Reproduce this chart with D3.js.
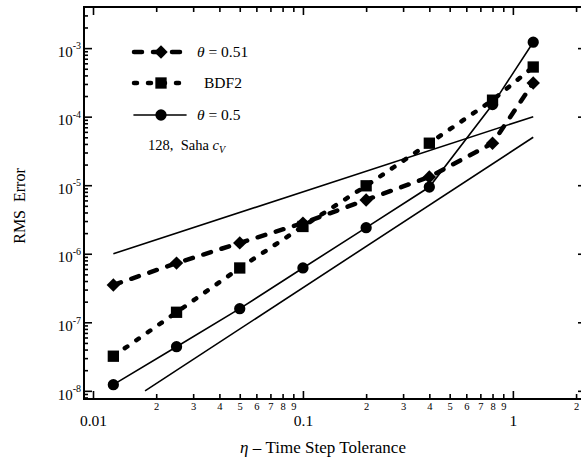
<!DOCTYPE html>
<html>
<head>
<meta charset="utf-8">
<script src="https://cdnjs.cloudflare.com/ajax/libs/d3/7.8.5/d3.min.js"></script>
<style>
  body { margin: 0; background: #fff; }
  svg { display: block; font-family: "Liberation Serif", "DejaVu Serif", serif; }
</style>
</head>
<body>
<svg id="chart" width="581" height="457"></svg>
<script>
// data
var eta = [0.0125, 0.025, 0.05, 0.1, 0.2, 0.4, 0.8, 1.25];
var theta051 = [3.5e-7, 7.3e-7, 1.44e-6, 2.8e-6, 6.1e-6, 1.32e-5, 4.1e-5, 3.1e-4];
var bdf2 = [3.2e-8, 1.4e-7, 6.2e-7, 2.5e-6, 9.8e-6, 4.1e-5, 1.74e-4, 5.3e-4];
var theta05 = [1.23e-8, 4.4e-8, 1.58e-7, 6.2e-7, 2.4e-6, 9.4e-6, 1.5e-4, 1.22e-3];
// reference slope lines (first order, second order)
var slope1X = [0.0125, 1.25], slope1Y = [1e-6, 1e-4];
var slope2X = [0.0177, 1.25], slope2Y = [1e-8, 5e-5];

var xMajor = [0.01, 0.1, 1];
var xMinor = [0.02, 0.03, 0.04, 0.05, 0.06, 0.07, 0.08, 0.09,
              0.2, 0.3, 0.4, 0.5, 0.6, 0.7, 0.8, 0.9, 2];
var yMajor = [1e-8, 1e-7, 1e-6, 1e-5, 1e-4, 1e-3];

var pLeft = 84, pRight = 586, pTop = 7, pBottom = 399;

var svg = d3.select("#chart");

var x = d3.scaleLog().domain([0.00906, 2.23]).range([pLeft, pRight]);
var y = d3.scaleLog().domain([7.6e-9, 3.98e-3]).range([pBottom, pTop]);

// y minor ticks 2..9 per decade inside the domain
var yMinor = [];
for (var e = -9; e <= -3; e++) {
  for (var m = 2; m <= 9; m++) {
    var v = m * Math.pow(10, e);
    if (v > y.domain()[0] && v < y.domain()[1]) yMinor.push(v);
  }
}

// frame
svg.append("rect")
  .attr("x", pLeft).attr("y", pTop)
  .attr("width", pRight - pLeft).attr("height", pBottom - pTop)
  .attr("fill", "none").attr("stroke", "#000").attr("stroke-width", 2);

function styleAxis(g) {
  g.attr("font-family", null);
  g.select(".domain").remove();
  g.selectAll(".tick line").attr("stroke", "#000").attr("stroke-width", 1.6);
}

// bottom axis
svg.append("g").attr("transform", "translate(0," + pBottom + ")")
  .call(d3.axisBottom(x).tickValues(xMinor).tickSize(-5).tickPadding(4)
    .tickFormat(function(d) { return Math.round(d / Math.pow(10, Math.floor(Math.log10(d) + 1e-9))); }))
  .call(styleAxis)
  .selectAll("text").attr("font-size", 10.5).attr("fill", "#000");
svg.append("g").attr("transform", "translate(0," + pBottom + ")")
  .call(d3.axisBottom(x).tickValues(xMajor).tickSize(-8).tickPadding(16)
    .tickFormat(function(d) { return String(d); }))
  .call(styleAxis)
  .selectAll("text").attr("font-size", 15.5).attr("fill", "#000");

// top axis
svg.append("g").attr("transform", "translate(0," + pTop + ")")
  .call(d3.axisTop(x).tickValues(xMinor).tickSize(-5).tickFormat(""))
  .call(styleAxis);
svg.append("g").attr("transform", "translate(0," + pTop + ")")
  .call(d3.axisTop(x).tickValues(xMajor).tickSize(-8).tickFormat(""))
  .call(styleAxis);

// left axis
svg.append("g").attr("transform", "translate(" + pLeft + ",0)")
  .call(d3.axisLeft(y).tickValues(yMinor).tickSize(-4).tickFormat(""))
  .call(styleAxis);
var yl = svg.append("g").attr("transform", "translate(" + pLeft + ",0)")
  .call(d3.axisLeft(y).tickValues(yMajor).tickSize(-8).tickPadding(3)
    .tickFormat(function(d) { return ""; }))
  .call(styleAxis);
yl.selectAll(".tick text")
  .attr("font-size", 15).attr("fill", "#000").attr("dy", "0.55em")
  .each(function(d) {
    var t = d3.select(this);
    t.append("tspan").text("10");
    t.append("tspan").attr("font-size", 10).attr("dy", "-0.75em")
      .text(String(Math.round(Math.log10(d))));
  });

// right axis
svg.append("g").attr("transform", "translate(" + pRight + ",0)")
  .call(d3.axisRight(y).tickValues(yMinor).tickSize(-4).tickFormat(""))
  .call(styleAxis);
svg.append("g").attr("transform", "translate(" + pRight + ",0)")
  .call(d3.axisRight(y).tickValues(yMajor).tickSize(-8).tickFormat(""))
  .call(styleAxis);

// axis titles
svg.append("text")
  .attr("transform", "translate(25,206) rotate(-90)")
  .attr("text-anchor", "middle").attr("font-size", 16)
  .text("RMS\u00a0 Error");
var xt = svg.append("text")
  .attr("x", 323).attr("y", 453)
  .attr("text-anchor", "middle").attr("font-size", 17);
xt.append("tspan").attr("font-style", "italic").text("\u03b7");
xt.append("tspan").text(" \u2013 Time Step Tolerance");

// plot marks
var line = d3.line()
  .x(function(d) { return x(d[0]); })
  .y(function(d) { return y(d[1]); });

var plot = svg.append("g");

plot.append("path").datum(d3.zip(slope1X, slope1Y))
  .attr("d", line).attr("fill", "none").attr("stroke", "#000").attr("stroke-width", 1.6);
plot.append("path").datum(d3.zip(slope2X, slope2Y))
  .attr("d", line).attr("fill", "none").attr("stroke", "#000").attr("stroke-width", 1.6);

var series = [
  {name: "theta051", vals: theta051, dash: "8,11", width: 4.5,
   sym: d3.symbolSquare, size: 90, rot: 45},
  {name: "bdf2", vals: bdf2, dash: "3,11", width: 4.5,
   sym: d3.symbolSquare, size: 128, rot: 0},
  {name: "theta05", vals: theta05, dash: null, width: 1.6,
   sym: d3.symbolCircle, size: 100, rot: 0}
];

series.forEach(function(s) {
  var pts = d3.zip(eta, s.vals);
  plot.append("path").datum(pts)
    .attr("d", line).attr("fill", "none").attr("stroke", "#000")
    .attr("stroke-width", s.width)
    .attr("stroke-linecap", "round")
    .attr("stroke-dasharray", s.dash);
  plot.selectAll(null).data(pts).enter().append("path")
    .attr("d", d3.symbol().type(s.sym).size(s.size))
    .attr("transform", function(d) {
      return "translate(" + x(d[0]) + "," + y(d[1]) + ") rotate(" + s.rot + ")";
    })
    .attr("fill", "#000");
});

// legend
var legendY = [52, 83, 115];
var legend = svg.append("g");
series.forEach(function(s, i) {
  var ly = legendY[i];
  legend.append("line")
    .attr("x1", 134).attr("x2", 186).attr("y1", ly).attr("y2", ly)
    .attr("stroke", "#000").attr("stroke-width", s.width)
    .attr("stroke-linecap", "round")
    .attr("stroke-dasharray", s.dash);
  legend.append("path")
    .attr("d", d3.symbol().type(s.sym).size(s.size))
    .attr("transform", "translate(161," + ly + ") rotate(" + s.rot + ")")
    .attr("fill", "#000");
});
var t1 = legend.append("text").attr("x", 197).attr("y", 57).attr("font-size", 15.5);
t1.append("tspan").attr("font-style", "italic").text("\u03b8");
t1.append("tspan").text(" = 0.51");
legend.append("text").attr("x", 204).attr("y", 88).attr("font-size", 15.5).text("BDF2");
var t3 = legend.append("text").attr("x", 197).attr("y", 120).attr("font-size", 15.5);
t3.append("tspan").attr("font-style", "italic").text("\u03b8");
t3.append("tspan").text(" = 0.5");
var t4 = legend.append("text").attr("x", 148).attr("y", 150).attr("font-size", 14.5)
  .attr("xml:space", "preserve");
t4.append("tspan").text("128,\u00a0 Saha ");
t4.append("tspan").attr("font-style", "italic").text("c");
t4.append("tspan").attr("font-style", "italic").attr("font-size", 10).attr("dy", "0.3em").text("V");
</script>
</body>
</html>
